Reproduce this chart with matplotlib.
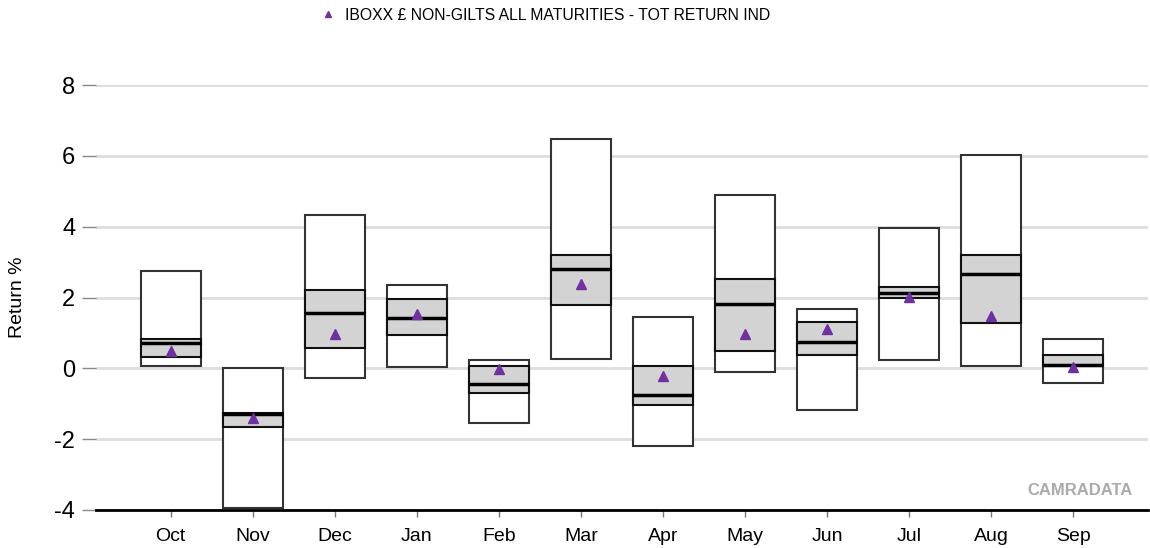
import numpy as np
import matplotlib.pyplot as plt
from matplotlib.lines import Line2D

# Datos (rentabilidad mensual, %)
months = ["Oct", "Nov", "Dec", "Jan", "Feb", "Mar", "Apr", "May", "Jun", "Jul", "Aug", "Sep"]
maxima = [2.75, 0.00, 4.32, 2.34, 0.24, 6.48, 1.45, 4.89, 1.68, 3.95, 6.03, 0.83]
upper_q = [0.82, -1.26, 2.20, 1.95, 0.08, 3.21, 0.07, 2.51, 1.30, 2.30, 3.19, 0.38]
medians = [0.72, -1.30, 1.55, 1.41, -0.43, 2.80, -0.74, 1.81, 0.75, 2.14, 2.66, 0.09]
lower_q = [0.32, -1.66, 0.57, 0.93, -0.70, 1.78, -1.03, 0.48, 0.39, 2.00, 1.27, 0.07]
minima = [0.08, -3.95, -0.26, 0.03, -1.55, 0.27, -2.18, -0.10, -1.18, 0.23, 0.06, -0.41]
index_ret = [0.49, -1.41, 0.98, 1.53, -0.03, 2.39, -0.21, 0.96, 1.10, 2.01, 1.47, 0.04]

yticks = [-4, -2, 0, 2, 4, 6, 8]
legend_label = "IBOXX £ NON-GILTS ALL MATURITIES - TOT RETURN IND"

plt.rcParams["font.family"] = ["Liberation Sans", "DejaVu Sans"]

fig = plt.figure(figsize=(11.5, 5.48), dpi=100)
ax = fig.add_axes([96 / 1150, 1 - 510 / 548, 1052 / 1150, 425 / 548])

x = np.arange(len(months))
width = 0.73
maxima = np.array(maxima)
minima = np.array(minima)
upper_q = np.array(upper_q)
lower_q = np.array(lower_q)

# Rango completo (min - max)
ax.bar(x, maxima - minima, bottom=minima, width=width, color="white",
       edgecolor="#333333", linewidth=1.5, zorder=3)
# Rango intercuartil
ax.bar(x, upper_q - lower_q, bottom=lower_q, width=width, color="#d3d3d3",
       edgecolor="#111111", linewidth=1.5, zorder=4)
# Mediana
ax.hlines(medians, x - width / 2, x + width / 2, color="black", linewidth=2.5, zorder=5)
# Indice
ax.plot(x, index_ret, linestyle="none", marker="^", color="#7030a0",
        markersize=7, zorder=6)

ax.set_xlim(-0.91, len(months) - 1 + 0.91)
ax.set_ylim(-4, 8)
ax.set_yticks(yticks)
ax.set_yticklabels([str(t) for t in yticks], fontsize=17)
ax.set_xticks(x)
ax.set_xticklabels(months, fontsize=14)

ax.yaxis.grid(True, color="#dddddd", linewidth=2, zorder=0)
ax.set_axisbelow(True)
for side in ["left", "right", "top"]:
    ax.spines[side].set_visible(False)
ax.spines["bottom"].set_color("black")
ax.spines["bottom"].set_linewidth(2)
ax.tick_params(axis="y", length=10, width=1, color="#888888", pad=5)
ax.tick_params(axis="x", length=5, width=1, color="#777777", pad=8)

ax.set_ylabel("Return %", fontsize=14)
ax.yaxis.set_label_coords(-0.067, 0.5)

ax.text(0.985, 0.047, "CAMRADATA", transform=ax.transAxes, ha="right", va="center",
        fontsize=12, fontweight="bold", color="#aaaaaa")

handle = Line2D([], [], linestyle="none", marker="^", color="#7030a0", markersize=5)
fig.legend([handle], [legend_label], loc="center left",
           bbox_to_anchor=(312 / 1150, 1 - 15 / 548), frameon=False,
           fontsize=11.3, handletextpad=0.5, handlelength=1.2, borderaxespad=0)

fig.savefig("out.png", dpi=100)
